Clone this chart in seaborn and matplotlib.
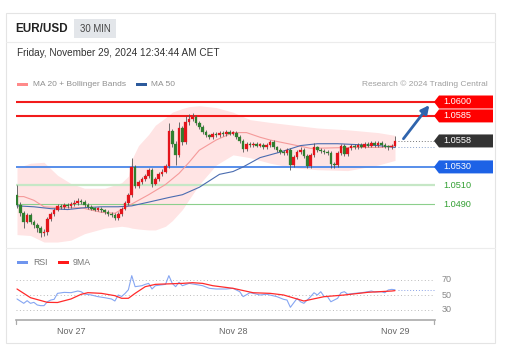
import matplotlib
matplotlib.use("Agg")
import matplotlib.pyplot as plt
import matplotlib.transforms as mtransforms
from matplotlib.patches import Rectangle, Polygon
import seaborn as sns
import numpy as np

sns.set_theme(style="white")
plt.rcParams["font.family"] = ["Liberation Sans", "DejaVu Sans"]

# ----------------------------------------------------------------------
# Data (30 min candles, Nov 26 16:00 -> Nov 29 00:00)
# ----------------------------------------------------------------------
first_open = 1.0500
closes = [
    1.0489, 1.0480, 1.0471, 1.0478, 1.0471, 1.0467, 1.0464, 1.0459, 1.0460, 1.0474,
    1.0479, 1.0484, 1.0488, 1.0487, 1.0489, 1.0488, 1.0490, 1.0491, 1.0493, 1.0492,
    1.0489, 1.0487, 1.0485, 1.0484, 1.0485, 1.0483, 1.0481, 1.0479, 1.0478, 1.0475,
    1.0479, 1.0485, 1.0491, 1.0500, 1.0530, 1.0509, 1.0514, 1.0517, 1.0520, 1.0527,
    1.0512, 1.0517, 1.0522, 1.0525, 1.0531, 1.0569, 1.0555, 1.0543, 1.0572, 1.0557,
    1.0578, 1.0582, 1.0584, 1.0577, 1.0573, 1.0568, 1.0564, 1.0562, 1.0566, 1.0564,
    1.0567, 1.0565, 1.0568, 1.0566, 1.0567, 1.0562, 1.0558, 1.0549, 1.0555, 1.0554,
    1.0555, 1.0553, 1.0554, 1.0551, 1.0554, 1.0557, 1.0551, 1.0548, 1.0546, 1.0545,
    1.0548, 1.0532, 1.0541, 1.0546, 1.0548, 1.0542, 1.0531, 1.0543, 1.0551, 1.0548,
    1.0547, 1.0546, 1.0545, 1.0533, 1.0532, 1.0545, 1.0553, 1.0544, 1.0550, 1.0553,
    1.0551, 1.0554, 1.0552, 1.0555, 1.0553, 1.0556, 1.0554, 1.0556, 1.0554, 1.0552,
    1.0551, 1.0553, 1.0558,
]
highs = [
    1.0510, 1.0492, 1.0482, 1.0480, 1.0480, 1.0473, 1.0469, 1.0466, 1.0463, 1.0476,
    1.0481, 1.0486, 1.0490, 1.0490, 1.0491, 1.0491, 1.0492, 1.0494, 1.0497, 1.0495,
    1.0494, 1.0491, 1.0489, 1.0487, 1.0487, 1.0487, 1.0485, 1.0483, 1.0481, 1.0480,
    1.0481, 1.0487, 1.0493, 1.0502, 1.0540, 1.0532, 1.0516, 1.0519, 1.0522, 1.0529,
    1.0529, 1.0519, 1.0524, 1.0528, 1.0533, 1.0577, 1.0571, 1.0558, 1.0578, 1.0574,
    1.0585, 1.0587, 1.0588, 1.0586, 1.0579, 1.0575, 1.0570, 1.0566, 1.0568, 1.0568,
    1.0569, 1.0569, 1.0570, 1.0570, 1.0569, 1.0569, 1.0564, 1.0560, 1.0557, 1.0557,
    1.0557, 1.0557, 1.0556, 1.0556, 1.0556, 1.0559, 1.0559, 1.0553, 1.0550, 1.0548,
    1.0550, 1.0550, 1.0543, 1.0548, 1.0551, 1.0550, 1.0544, 1.0545, 1.0556, 1.0553,
    1.0550, 1.0549, 1.0548, 1.0547, 1.0535, 1.0547, 1.0555, 1.0555, 1.0552, 1.0555,
    1.0555, 1.0556, 1.0556, 1.0557, 1.0557, 1.0558, 1.0558, 1.0558, 1.0558, 1.0556,
    1.0554, 1.0555, 1.0563,
]
lows = [
    1.0486, 1.0477, 1.0464, 1.0469, 1.0468, 1.0464, 1.0460, 1.0454, 1.0456, 1.0457,
    1.0472, 1.0477, 1.0482, 1.0485, 1.0485, 1.0486, 1.0486, 1.0488, 1.0489, 1.0490,
    1.0487, 1.0485, 1.0483, 1.0482, 1.0482, 1.0481, 1.0479, 1.0477, 1.0476, 1.0473,
    1.0473, 1.0477, 1.0483, 1.0489, 1.0498, 1.0507, 1.0507, 1.0512, 1.0515, 1.0518,
    1.0508, 1.0510, 1.0515, 1.0520, 1.0523, 1.0529, 1.0552, 1.0532, 1.0541, 1.0554,
    1.0555, 1.0575, 1.0580, 1.0575, 1.0571, 1.0566, 1.0562, 1.0560, 1.0560, 1.0562,
    1.0562, 1.0563, 1.0563, 1.0564, 1.0564, 1.0560, 1.0556, 1.0546, 1.0547, 1.0552,
    1.0552, 1.0551, 1.0551, 1.0549, 1.0549, 1.0552, 1.0549, 1.0546, 1.0544, 1.0543,
    1.0543, 1.0527, 1.0530, 1.0539, 1.0544, 1.0540, 1.0529, 1.0529, 1.0541, 1.0546,
    1.0545, 1.0544, 1.0543, 1.0529, 1.0529, 1.0530, 1.0543, 1.0542, 1.0542, 1.0548,
    1.0549, 1.0549, 1.0550, 1.0550, 1.0551, 1.0551, 1.0552, 1.0552, 1.0552, 1.0550,
    1.0548, 1.0549, 1.0551,
]

# MA 20 + Bollinger Bands, MA 50 (read at candle indices)
ma20_idx = [0, 2, 5, 8, 13, 19, 25, 29, 32, 35, 39, 44, 48, 51, 54, 59, 64, 68, 72, 75, 79, 83, 87, 99, 108, 112]
ma20_val = [1.0498, 1.0498, 1.0494, 1.0487, 1.0486, 1.0486, 1.0481, 1.0480, 1.0486, 1.0492,
            1.0500, 1.0511, 1.0523, 1.0535, 1.0548, 1.0559, 1.0567, 1.0567, 1.0562, 1.0559,
            1.0556, 1.0553, 1.0550, 1.0551, 1.0551, 1.0553]
band_idx = [0, 4, 8, 12, 16, 20, 26, 31, 33, 34, 36, 39, 41, 44, 46, 49, 51, 54, 59, 64, 69, 75, 82, 89, 98, 107, 112]
band_up = [1.0529, 1.0534, 1.0535, 1.0521, 1.0512, 1.0507, 1.0507, 1.0513, 1.0520, 1.0538,
           1.0553, 1.0565, 1.0575, 1.0583, 1.0589, 1.0593, 1.0595, 1.0596, 1.0594, 1.0589,
           1.0581, 1.0578, 1.0575, 1.0572, 1.0570, 1.0567, 1.0564]
band_low = [1.0457, 1.0456, 1.0449, 1.0449, 1.0451, 1.0458, 1.0464, 1.0466, 1.0465, 1.0464,
            1.0463, 1.0462, 1.0462, 1.0466, 1.0472, 1.0484, 1.0495, 1.0511, 1.0532, 1.0543,
            1.0540, 1.0534, 1.0529, 1.0527, 1.0526, 1.0532, 1.0537]
ma50_idx = [0, 5, 10, 15, 20, 25, 30, 34, 39, 45, 49, 54, 60, 64, 67, 72, 78, 84, 89, 95, 101, 107, 112]
ma50_val = [1.0488, 1.0487, 1.0485, 1.0484, 1.0486, 1.0487, 1.0487, 1.0488, 1.0492, 1.0497,
            1.0500, 1.0508, 1.0522, 1.0525, 1.0530, 1.0540, 1.0546, 1.0553, 1.0555, 1.0555,
            1.0554, 1.0553, 1.0551]

# RSI + 9MA
rsi_idx = [0, 2, 3, 4, 5, 6, 7, 8, 9, 10, 11, 12, 14, 16, 18, 19, 20, 22, 24, 26, 28, 29, 30,
           31, 32, 33, 34, 35, 37, 38, 39, 40, 41, 44, 45, 46, 47, 48, 49, 51, 53, 55, 57, 59,
           62, 64, 66, 67, 69, 70, 72, 74, 77, 79, 80, 81, 83, 84, 85, 87, 88, 89, 90, 91, 92,
           93, 95, 96, 97, 98, 100, 102, 104, 105, 106, 108, 109, 110, 111, 112]
rsi_val = [44.7, 38.9, 42.4, 38.9, 40.2, 36.7, 35.8, 35.8, 41.0, 43.3, 44.2, 52.2, 53.5, 53.1,
           55.3, 54.4, 51.3, 50.0, 47.8, 46.4, 44.7, 42.0, 50.0, 48.0, 52.0, 57.0, 75.8, 61.1,
           62.4, 64.2, 65.5, 58.0, 62.4, 64.2, 75.8, 65.5, 61.1, 66.9, 62.4, 65.5, 64.0, 62.4,
           58.9, 58.0, 58.0, 58.9, 54.4, 47.8, 53.0, 52.2, 50.0, 51.0, 47.8, 44.2, 43.3, 33.6,
           45.6, 41.0, 38.9, 47.8, 53.0, 50.0, 54.4, 48.0, 47.8, 41.0, 45.6, 53.0, 54.4, 51.0,
           52.2, 53.0, 54.4, 55.3, 54.0, 54.4, 53.0, 56.7, 57.5, 57.0]
ma9_idx = [0, 2, 4, 9, 12, 16, 19, 21, 25, 29, 31, 33, 35, 38, 41, 44, 49, 52, 55, 58, 64,
           70, 75, 79, 85, 91, 97, 104, 111, 112]
ma9_val = [58.0, 52.2, 46.4, 40.2, 40.0, 44.7, 50.9, 53.1, 52.2, 49.1, 45.6, 45.6, 52.2, 61.1,
           64.2, 64.7, 65.5, 66.4, 65.5, 62.4, 58.9, 53.0, 52.2, 50.0, 42.0, 47.8, 50.0, 53.6,
           55.3, 55.8]
rsi_levels = [70, 50, 30]

level_values = [1.0600, 1.0585, 1.0530, 1.0510, 1.0490]
target = 1.0600
day_ticks = [16, 64, 112]
day_labels = ["Nov 27", "Nov 28", "Nov 29"]

# ----------------------------------------------------------------------
# Layout helpers (pixel based)
# ----------------------------------------------------------------------
W, H = 509, 355
fig = plt.figure(figsize=(W / 100, H / 100), dpi=100)
fig.patch.set_facecolor("white")


def px_axes(x0, y0, x1, y1):
    a = fig.add_axes([x0 / W, 1 - y1 / H, (x1 - x0) / W, (y1 - y0) / H])
    a.set_facecolor("none")
    return a


bg = fig.add_axes([0, 0, 1, 1])
bg.set_xlim(0, W)
bg.set_ylim(H, 0)
bg.axis("off")

# card frame
bg.add_patch(Rectangle((6.5, 12.5), 489, 330, fill=False, ec="#e4e4e4", lw=0.8))
bg.plot([6.5, 495.5], [42, 42], color="#ececec", lw=0.8)
bg.plot([6.5, 495.5], [248, 248], color="#ececec", lw=0.8)
bg.text(15, 28.5, "EUR/USD", fontsize=8.4, fontweight="bold", color="#222222", va="center")
bg.add_patch(Rectangle((74, 19), 42, 19, color="#e3e6ea", lw=0))
bg.text(95, 28.5, "30 MIN", fontsize=6.9, color="#444444", va="center", ha="center")
bg.text(17, 53, "Friday, November 29, 2024 12:34:44 AM CET", fontsize=7.2, color="#333333", va="center")

# legends
bg.add_patch(Rectangle((17, 82.5), 11, 3.5, color="#ff8a8a", lw=0))
bg.text(33, 84.5, "MA 20 + Bollinger Bands", fontsize=6, color="#8f8f8f", va="center")
bg.add_patch(Rectangle((136, 82.5), 11, 3.5, color="#2c5a9c", lw=0))
bg.text(151, 84.5, "MA 50", fontsize=6, color="#8f8f8f", va="center")
bg.text(488, 84.5, "Research \u00a9 2024 Trading Central", fontsize=6, color="#9f9f9f",
        va="center", ha="right")
bg.add_patch(Rectangle((17, 260.5), 11, 3.5, color="#6f95ee", lw=0))
bg.text(33, 262.5, "RSI", fontsize=6.3, color="#777777", va="center")
bg.add_patch(Rectangle((58, 260.5), 11, 3.5, color="#ff1a1a", lw=0))
bg.text(73, 262.5, "9MA", fontsize=6.3, color="#777777", va="center")

# ----------------------------------------------------------------------
# Main price panel
# ----------------------------------------------------------------------
def x2i(x):
    return (x - 17) / 3.375


def y2p(y):
    return 1.0600 - (y - 102) * 0.011 / 102


ax = px_axes(16, 92, 435, 248)
ax.set_xlim(x2i(16), x2i(435))
ax.set_ylim(y2p(248), y2p(92))
ax.axis("off")

ax.fill_between(band_idx, band_low, band_up, color="#ffe4e4", lw=0, zorder=1)
sns.lineplot(x=ma20_idx, y=ma20_val, ax=ax, color="#f59a9a", lw=0.8, zorder=2)
sns.lineplot(x=ma50_idx, y=ma50_val, ax=ax, color="#4a6cb0", lw=0.8, zorder=2)

# support / resistance lines
line_styles = [("#f21b1b", 1.5), ("#f21b1b", 1.5), ("#4a86e8", 1.3), ("#c6e7c6", 1.6), ("#8ccf8c", 0.8)]
for lv, (col, lw) in zip(level_values, line_styles):
    ax.axhline(lv, color=col, lw=lw, zorder=1.5)

# candles
idx = np.arange(len(closes))
c = np.array(closes)
o = np.array([first_open] + closes[:-1])
up = c >= o
body_col = np.where(up, "#e3141b", "#2f7f2f")
ax.vlines(idx, lows, highs, color="#555555", lw=0.6, zorder=3)
ax.bar(idx, np.maximum(np.abs(c - o), 0.00012), bottom=np.minimum(o, c), width=0.75,
       color=body_col, edgecolor=body_col, lw=0.2, zorder=4)

# last price / MA dotted markers
last = idx[-1]
ax.hlines(closes[-1], last + 1, x2i(434), color="#777777", lw=0.7, ls=(0, (1, 2)), zorder=2)
ax.hlines(ma20_val[-1] - 0.0002, last + 1, x2i(434), color="#8aa2cc", lw=0.7, ls=(0, (1, 2)), zorder=2)

# forecast arrow
ax.annotate("", xy=(x2i(431), target - 0.0001), xytext=(last + 2, closes[-1]),
            arrowprops=dict(arrowstyle="-|>", color="#2f64ad", lw=2.0, mutation_scale=12),
            annotation_clip=False, zorder=5)

# price tags on the right
tr = mtransforms.blended_transform_factory(ax.transAxes, ax.transData)


def fx(x):
    return (x - 16) / 419


half = 6.5 * 0.011 / 102
tags = [(1.0600, "#ff0000"), (1.0585, "#ff0000"), (closes[-1], "#333333"), (1.0530, "#1d62e6")]
for val, col in tags:
    pts = [(fx(434), val), (fx(439), val + half), (fx(493), val + half),
           (fx(493), val - half), (fx(439), val - half)]
    ax.add_patch(Polygon(pts, closed=True, color=col, lw=0, transform=tr, clip_on=False, zorder=5))
    ax.text(fx(443), val, f"{val:.4f}", transform=tr, fontsize=6.6, color="white",
            va="center", ha="left", clip_on=False, zorder=6)
for val in level_values[3:]:
    ax.text(fx(443), val, f"{val:.4f}", transform=tr, fontsize=6.6, color="#33a033",
            va="center", ha="left", clip_on=False)

# ----------------------------------------------------------------------
# RSI panel
# ----------------------------------------------------------------------
def y2r(y):
    return 50 - (y - 295) / 0.75


rx = px_axes(16, 272, 435, 320)
rx.set_xlim(x2i(16), x2i(435))
rx.set_ylim(y2r(320), y2r(272))
for lv in rsi_levels:
    rx.axhline(lv, color="#bbbbbb", lw=0.7, ls=(0, (1, 2.5)), zorder=1)
trr = mtransforms.blended_transform_factory(rx.transAxes, rx.transData)
for lv in rsi_levels:
    rx.text(fx(442), lv, str(lv), transform=trr, fontsize=6.5, color="#888888", va="center",
            clip_on=False)
sns.lineplot(x=rsi_idx, y=rsi_val, ax=rx, color="#86a6f2", lw=0.8, zorder=2)
sns.lineplot(x=ma9_idx, y=ma9_val, ax=rx, color="#ff2a2a", lw=0.9, zorder=3)
rx.hlines(rsi_val[-1], last + 1, x2i(434), color="#8aa2e8", lw=0.7, ls=(0, (1, 2)), zorder=2)

for side in ["top", "left", "right"]:
    rx.spines[side].set_visible(False)
rx.spines["bottom"].set_color("#aaaaaa")
rx.spines["bottom"].set_linewidth(1.2)
rx.set_yticks([])
rx.set_xticks(day_ticks)
rx.set_xticklabels(day_labels, fontsize=6.5, color="#666666")
rx.tick_params(axis="x", length=0, pad=5)
rx.set_xlabel("")
rx.set_ylabel("")
bg.plot([16.5, 16.5], [320, 324], color="#aaaaaa", lw=0.9)
bg.plot([434, 434], [320, 324], color="#aaaaaa", lw=0.9)

fig.savefig("out.png", dpi=100)
